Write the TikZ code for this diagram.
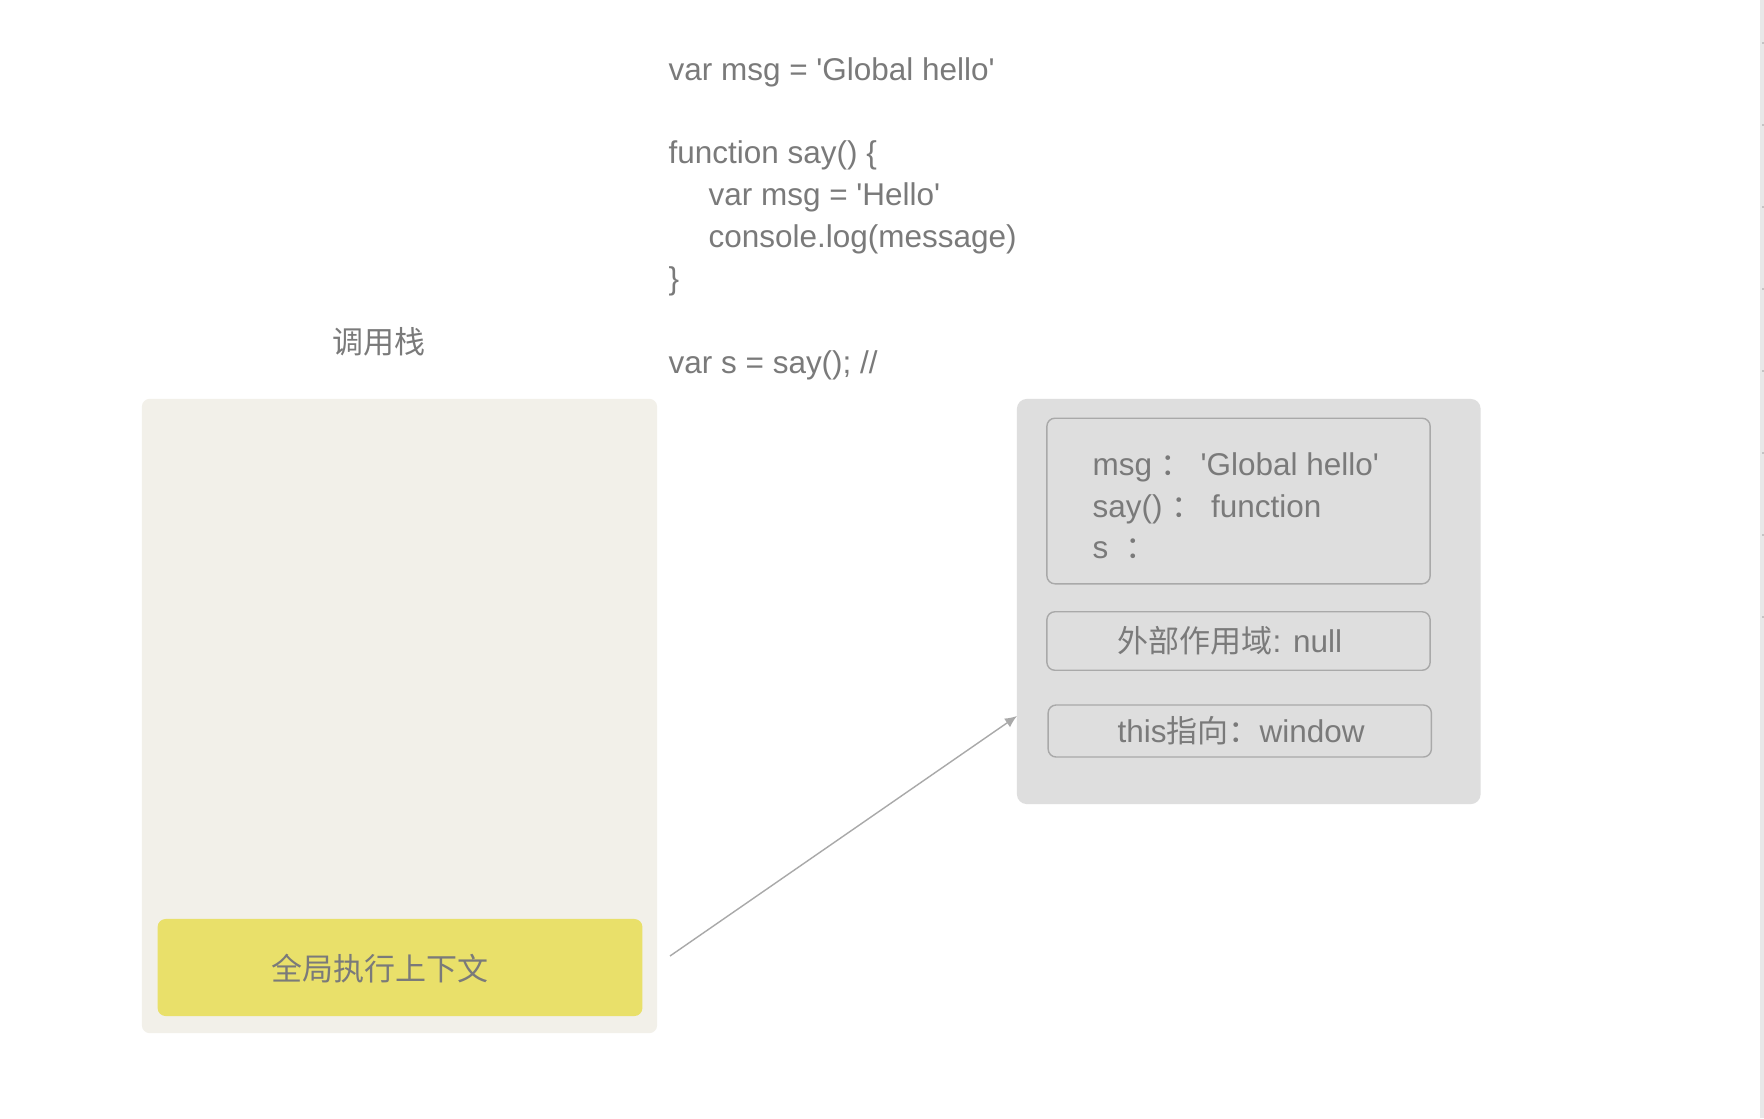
\documentclass[tikz,border=0pt]{standalone}
\usepackage{fontspec}
\setmainfont{Liberation Sans}
\newfontfamily\cjk[Scale=0.985]{Noto Sans CJK SC}
\usetikzlibrary{arrows.meta}

\definecolor{txtgray}{HTML}{7A7A7A}
\definecolor{stackfill}{HTML}{F2F0E9}
\definecolor{ctxyellow}{HTML}{E9E06A}
\definecolor{scopefill}{HTML}{DEDEDE}
\definecolor{slotline}{HTML}{A9A9A9}
\definecolor{barfill}{HTML}{E8E8E8}
\definecolor{bartick}{HTML}{C4C4C4}

\newcommand\sq{\textquotesingle}

\tikzset{
    code/.style={anchor=base west, inner sep=0pt, text=txtgray,
        font=\fontsize{8.95pt}{11.9pt}\selectfont},
    heading/.style={code, anchor=center},
    stackbox/.style={fill=stackfill, rounded corners=0.08cm, inner sep=0pt},
    ctxbox/.style={fill=ctxyellow, rounded corners=0.08cm, inner sep=0pt},
    scopebox/.style={fill=scopefill, rounded corners=0.1cm, inner sep=0pt},
    slot/.style={draw=slotline, line width=0.4pt, rounded corners=0.08cm,
        inner sep=0pt, minimum width=3.83cm},
    pointer/.style={draw=slotline, line width=0.4pt,
        -{Latex[length=1.2mm, width=1.05mm]}}
}

\begin{document}
\begin{tikzpicture}[x=0.01cm, y=-0.01cm]
    \useasboundingbox (0,0) rectangle (1764,1118);
    \fill[white] (0,0) rectangle (1764,1118);

    % scroll bar on the right edge
    \fill[barfill] (1760,0) rectangle (1764,1118);
    \foreach \k in {0,...,7}
        \draw[bartick, line width=0.3pt] (1762,43+82*\k) -- (1764,43+82*\k);

    \node[code] (c1) at (668,80) {var msg = \sq Global hello\sq};
    \node[code] (c2) at (668,163.5) {function say() \{};
    \node[code] (c3) at (708,205.5) {var msg = \sq Hello\sq};
    \node[code] (c4) at (708,247.5) {console.log(message)};
    \node[code] (c5) at (668,289.5) {\}};
    \node[code] (c6) at (668,373.5) {var s = say(); //};

    \node[heading] (stacktitle) at (379,342) {\cjk 调用栈};
    \node[stackbox, minimum width=5.15cm, minimum height=6.34cm] (stack) at (399.5,716) {};
    \node[ctxbox, minimum width=4.845cm, minimum height=0.97cm] (gctx) at (400,967.5) {};
    \node[heading] (gctxname) at (380,969) {\cjk 全局执行上下文};

    \node[scopebox, minimum width=4.635cm, minimum height=4.05cm] (ctx) at (1248.75,601.5) {};
    \node[slot, minimum height=1.655cm] (vars) at (1238.5,501) {};
    \node[slot, minimum height=0.585cm] (outer) at (1238.5,641) {};
    \node[slot, minimum height=0.52cm] (this) at (1239.75,731) {};

    \node[code] (v1) at (1092,475) {msg {\cjk ：} \sq Global hello\sq};
    \node[code] (v2) at (1092,517) {say() {\cjk ：} function};
    \node[code] (v3) at (1092,558) {s\ \ {\cjk ：}};
    \node[code] (outername) at (1117,652) {{\cjk 外部作用域}: null};
    \node[code] (thisname) at (1117,742) {this{\cjk 指向：}window};

    \coordinate (from) at (670,956);
    \coordinate (ptr) at (1017,716);
    \draw[pointer] (from) -- (ptr);
\end{tikzpicture}
\end{document}
